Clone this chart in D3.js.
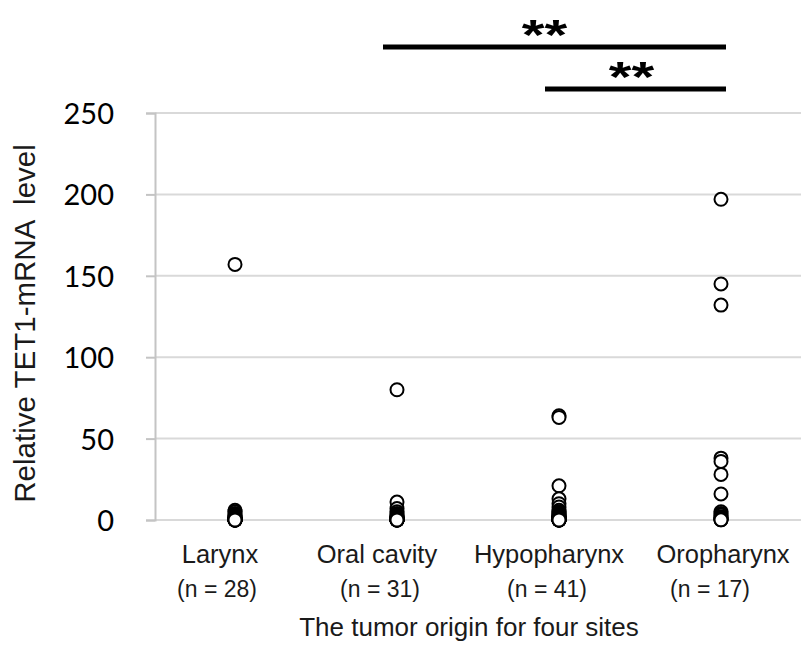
<!DOCTYPE html>
<html>
<head>
<meta charset="utf-8">
<script src="https://cdn.jsdelivr.net/npm/d3@7"></script>
<style>
  html, body { margin: 0; padding: 0; background: #fff; }
  svg { display: block; }
</style>
</head>
<body>
<svg id="chart" width="801" height="652"></svg>
<script>
// ---- data ----
const categories = ["Larynx", "Oral cavity", "Hypopharynx", "Oropharynx"];
const sampleSizes = ["(n = 28)", "(n = 31)", "(n = 41)", "(n = 17)"];
const larynx = [157, 6, 5, 4, 3, 2.5, 2, 1.5, 1.2, 1, 0.8, 0.6, 0.5, 0.4, 0.3, 0.3, 0.2, 0.2, 0.1, 0.1, 0.08, 0.05, 0.04, 0.03, 0.02, 0.01, 0.01, 0];
const oralCavity = [80, 11, 7, 5, 4, 3, 2.5, 2, 1.5, 1.2, 1, 0.9, 0.8, 0.7, 0.6, 0.5, 0.4, 0.4, 0.3, 0.3, 0.2, 0.2, 0.15, 0.1, 0.1, 0.08, 0.05, 0.03, 0.02, 0.01, 0];
const hypopharynx = [64, 63, 21, 13, 10, 8, 6, 5, 4.5, 4, 3.5, 3, 2.5, 2, 2, 1.5, 1.5, 1.2, 1, 1, 0.8, 0.8, 0.6, 0.6, 0.5, 0.5, 0.4, 0.4, 0.3, 0.3, 0.2, 0.2, 0.2, 0.1, 0.1, 0.1, 0.05, 0.05, 0.02, 0.01, 0];
const oropharynx = [197, 145, 132, 38, 36, 28, 16, 5, 4, 3, 2, 1.5, 1, 0.5, 0.3, 0.2, 0.1];
const yTicks = [0, 50, 100, 150, 200, 250];
const comparisons = [
  { from: "Oral cavity", to: "Oropharynx", label: "**" },
  { from: "Hypopharynx", to: "Oropharynx", label: "**" }
];
const yTitle = "Relative TET1-mRNA  level";
const xTitle = "The tumor origin for four sites";

const seriesValues = [larynx, oralCavity, hypopharynx, oropharynx];
const points = [];
categories.forEach((c, i) => seriesValues[i].forEach(v => points.push({ cat: c, value: v })));

// ---- layout ----
const svg = d3.select("#chart");
const plotLeft = 155, plotRight = 801, plotTop = 113, plotBottom = 520;
const FONT = "'Liberation Sans', Arial, sans-serif";
const NUMFONT = "Lato, 'Open Sans', sans-serif";
// small horizontal nudges of the category / n labels relative to the point columns
const catNudge = [-15, -20, -10, 2];
const nNudge = [-18, -17, -12, -11];

const x = d3.scalePoint().domain(categories).range([154, 802]).padding(0.5);
const y = d3.scaleLinear().domain([0, 250]).range([plotBottom, plotTop]);

// gridlines
svg.append("g")
  .selectAll("line").data(yTicks).join("line")
  .attr("x1", plotLeft).attr("x2", plotRight)
  .attr("y1", d => y(d)).attr("y2", d => y(d))
  .attr("stroke", "#d9d9d9").attr("stroke-width", 2);

// y axis
const yAxis = svg.append("g")
  .attr("transform", `translate(${plotLeft},0)`)
  .call(d3.axisLeft(y).tickValues(yTicks).tickSize(9).tickPadding(32));
yAxis.select(".domain").attr("stroke", "#c4c4c4").attr("stroke-width", 2);
yAxis.selectAll(".tick line").attr("stroke", "#c4c4c4").attr("stroke-width", 2);
yAxis.selectAll(".tick text")
  .attr("font-family", NUMFONT)
  .attr("font-size", 29).attr("fill", "#000").attr("dy", "0.36em");

// category labels
svg.append("g").selectAll("text").data(categories).join("text")
  .attr("x", (d, i) => x(d) + catNudge[i]).attr("y", 563)
  .attr("text-anchor", "middle")
  .attr("font-family", FONT)
  .attr("font-size", 25.5).attr("fill", "#1a1a1a")
  .text(d => d);

svg.append("g").selectAll("text").data(sampleSizes).join("text")
  .attr("x", (d, i) => x(categories[i]) + nNudge[i]).attr("y", 597)
  .attr("text-anchor", "middle")
  .attr("font-family", FONT)
  .attr("font-size", 23).attr("fill", "#1a1a1a")
  .text(d => d);

// axis titles
svg.append("text")
  .attr("x", 469).attr("y", 636)
  .attr("text-anchor", "middle")
  .attr("font-family", FONT)
  .attr("font-size", 26).attr("fill", "#1a1a1a")
  .text(xTitle);

svg.append("text")
  .attr("transform", `translate(35,${(145 + 502) / 2}) rotate(-90)`)
  .attr("text-anchor", "middle")
  .attr("xml:space", "preserve")
  .style("white-space", "pre")
  .attr("font-family", FONT)
  .attr("font-size", 29.5).attr("fill", "#1a1a1a")
  .text(yTitle);

// points
svg.append("g").selectAll("circle").data(points).join("circle")
  .attr("cx", d => x(d.cat))
  .attr("cy", d => y(d.value))
  .attr("r", 6.5)
  .attr("fill", "#fff")
  .attr("stroke", "#000")
  .attr("stroke-width", 2);

// significance bars
const barY = [47, 89];
const starNudge = [-10, -4];
const sig = svg.append("g");
comparisons.forEach((c, i) => {
  const x1 = x(c.from) - 14, x2 = x(c.to) + 5;
  sig.append("line")
    .attr("x1", x1).attr("x2", x2).attr("y1", barY[i]).attr("y2", barY[i])
    .attr("stroke", "#000").attr("stroke-width", 5);
  sig.append("text")
    .attr("transform", `translate(${(x1 + x2) / 2 + starNudge[i]},${barY[i] + 2}) scale(1.08,0.8)`)
    .attr("text-anchor", "middle")
    .attr("font-family", FONT)
    .attr("font-weight", "bold")
    .attr("font-size", 54).attr("fill", "#000")
    .text(c.label);
});
</script>
</body>
</html>
